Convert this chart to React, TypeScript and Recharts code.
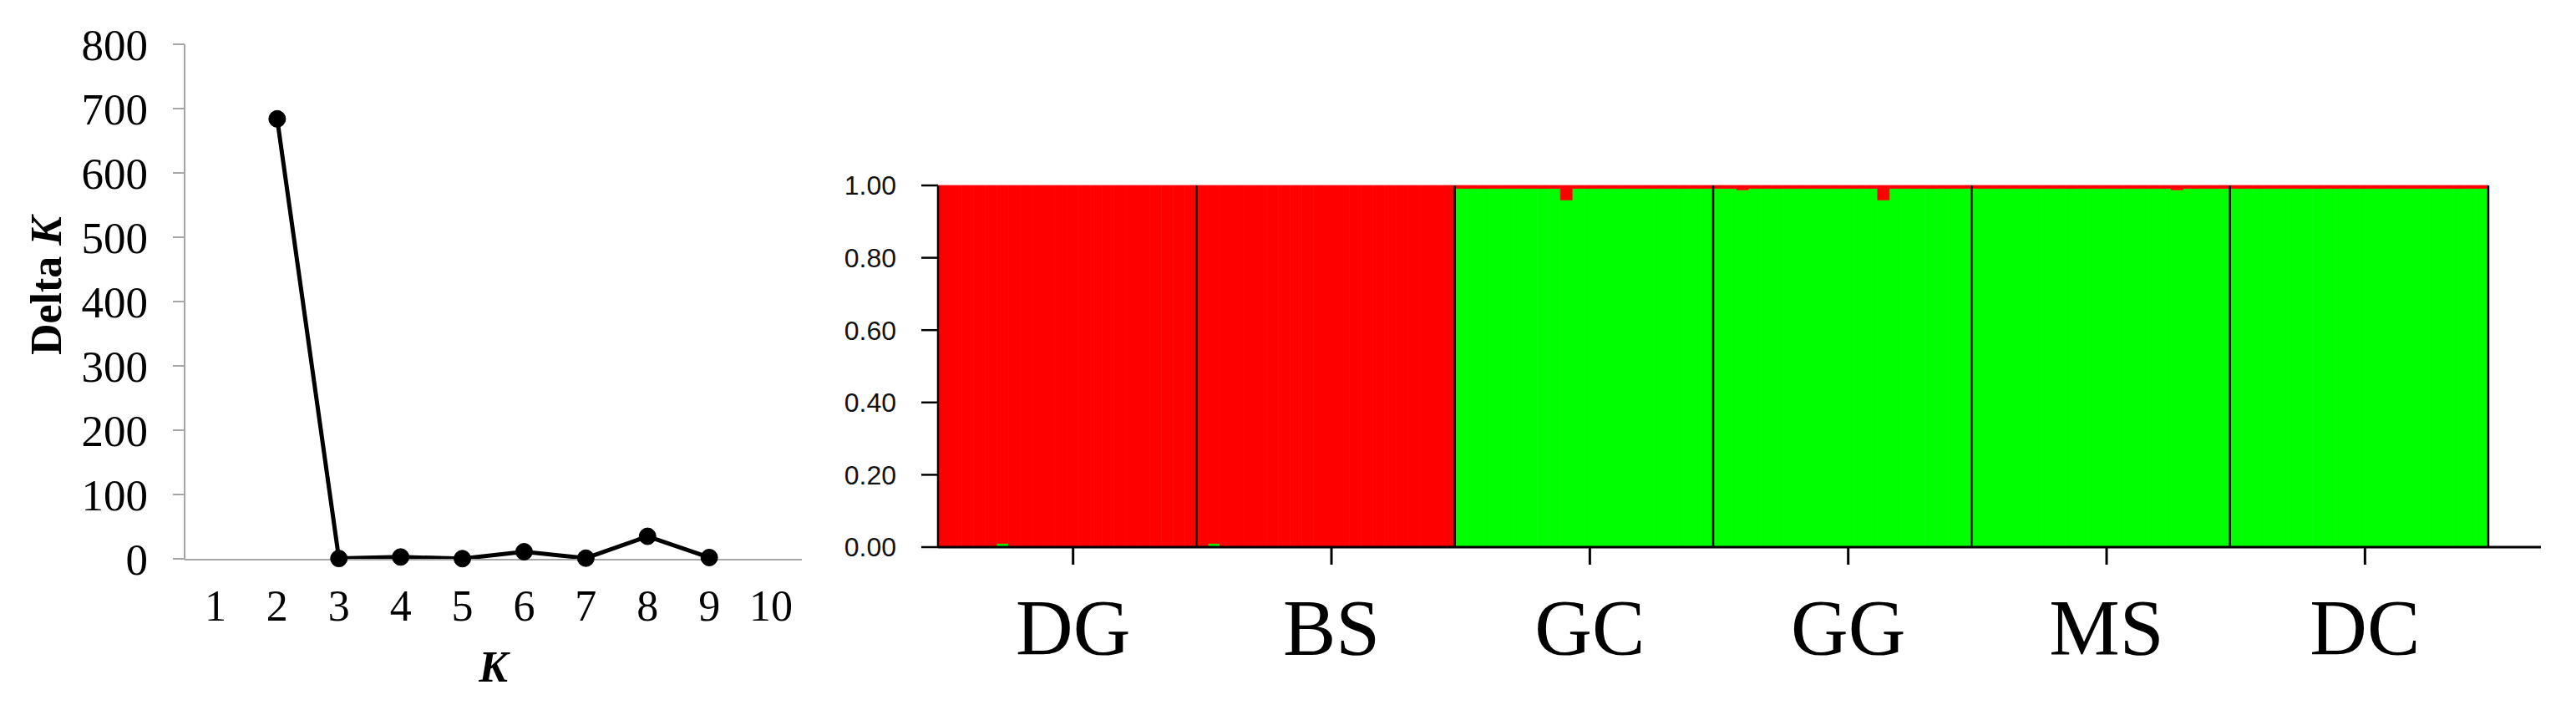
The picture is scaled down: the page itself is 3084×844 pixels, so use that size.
import {
  Bar,
  BarChart,
  Label,
  Line,
  LineChart,
  ReferenceLine,
  XAxis,
  YAxis,
} from "recharts";

// ---- Delta K (Evanno) ----
const kValues = [1, 2, 3, 4, 5, 6, 7, 8, 9, 10];
const deltaK = [null, 684, 0.5, 2.8, 0.3, 11, 1, 35, 2, null];
const deltaTicks = [0, 100, 200, 300, 400, 500, 600, 700, 800];
const kBoundaries = [0.5, 1.5, 2.5, 3.5, 4.5, 5.5, 6.5, 7.5, 8.5, 9.5, 10.5];

// ---- STRUCTURE bar plot, K = 2 ----
const popNames = ["DG", "BS", "GC", "GG", "MS", "DC"];
const qTicks = [0, 0.2, 0.4, 0.6, 0.8, 1];
// membership in the green cluster, one value per individual
const dgGreen = [0, 0, 0, 0, 0, 0.01, 0, 0, 0, 0, 0, 0, 0, 0, 0, 0, 0, 0, 0, 0, 0, 0];
const bsGreen = [0, 0.01, 0, 0, 0, 0, 0, 0, 0, 0, 0, 0, 0, 0, 0, 0, 0, 0, 0, 0, 0, 0];
const gcGreen = [0.992, 0.992, 0.992, 0.992, 0.992, 0.992, 0.992, 0.992, 0.992, 0.96, 0.992, 0.992, 0.992, 0.992, 0.992, 0.992, 0.992, 0.992, 0.992, 0.992, 0.992, 0.992];
const ggGreen = [0.992, 0.992, 0.988, 0.992, 0.992, 0.992, 0.992, 0.992, 0.992, 0.992, 0.992, 0.992, 0.992, 0.992, 0.96, 0.992, 0.992, 0.992, 0.992, 0.992, 0.992, 0.992];
const msGreen = [0.992, 0.992, 0.992, 0.992, 0.992, 0.992, 0.992, 0.992, 0.992, 0.992, 0.992, 0.992, 0.992, 0.992, 0.992, 0.992, 0.992, 0.988, 0.992, 0.992, 0.992, 0.992];
const dcGreen = [0.992, 0.992, 0.992, 0.992, 0.992, 0.992, 0.992, 0.992, 0.992, 0.992, 0.992, 0.992, 0.992, 0.992, 0.992, 0.992, 0.992, 0.992, 0.992, 0.992, 0.992, 0.992];

const popGreen = [dgGreen, bsGreen, gcGreen, ggGreen, msGreen, dcGreen];

const deltaData = kValues.map((k, i) => ({ k, dk: deltaK[i] }));

const qData = popGreen.flatMap((pop, p) =>
  pop.map((g, i) => ({
    id: `${popNames[p]}-${i + 1}`,
    green: g,
    red: 1 - g,
  }))
);

// population label sits under the middle individual, dividers at population starts
const popTicks = popGreen.map((pop, p) => `${popNames[p]}-${pop.length / 2 + 1}`);
const popStarts = popNames.slice(1).map((name) => `${name}-1`);
const lastId = qData[qData.length - 1].id;

const serif = "'Liberation Serif', 'Times New Roman', serif";
const sans = "'Liberation Sans', Arial, sans-serif";
const axisGray = "#a6a6a6";

const DeltaKTitle = ({ viewBox }: any) => {
  const cx = viewBox.x + 55;
  const cy = viewBox.y + viewBox.height / 2 - 19;
  return (
    <text
      x={cx}
      y={cy}
      transform={`rotate(-90 ${cx} ${cy})`}
      textAnchor="middle"
      dominantBaseline="central"
      fontFamily={serif}
      fontWeight="bold"
      fontSize={52}
      fill="#000"
    >
      Delta <tspan fontStyle="italic">K</tspan>
    </text>
  );
};

const KTitle = ({ viewBox }: any) => (
  <text
    x={viewBox.x + viewBox.width / 2}
    y={798}
    textAnchor="middle"
    dominantBaseline="central"
    fontFamily={serif}
    fontWeight="bold"
    fontStyle="italic"
    fontSize={52}
    fill="#000"
  >
    K
  </text>
);

function DeltaKChart() {
  return (
    <LineChart
      width={1000}
      height={844}
      data={deltaData}
      margin={{ top: 53, right: 40, bottom: 173, left: 0 }}
    >
      <XAxis
        xAxisId="grid"
        dataKey="k"
        type="number"
        domain={[0.5, 10.5]}
        ticks={kBoundaries}
        allowDataOverflow
        height={1}
        interval={0}
        tick={false}
        tickSize={15}
        stroke={axisGray}
        strokeWidth={2}
      />
      <XAxis
        dataKey="k"
        type="number"
        domain={[0.5, 10.5]}
        ticks={kValues}
        height={1}
        axisLine={false}
        tickLine={false}
        tickSize={0}
        tickMargin={37}
        interval={0}
        tick={{ fill: "#000", fontFamily: serif, fontSize: 52 }}
      >
        <Label content={<KTitle />} />
      </XAxis>
      <YAxis
        width={221}
        domain={[0, 800]}
        ticks={deltaTicks}
        interval={0}
        tickSize={14}
        tickMargin={30}
        stroke={axisGray}
        strokeWidth={2}
        tick={{ fill: "#000", fontFamily: serif, fontSize: 53 }}
      >
        <Label content={<DeltaKTitle />} />
      </YAxis>
      <Line
        dataKey="dk"
        type="linear"
        stroke="#000"
        strokeWidth={5}
        dot={{ r: 10, fill: "#000", stroke: "#000", strokeWidth: 1 }}
        isAnimationActive={false}
      />
    </LineChart>
  );
}

function StructureChart() {
  return (
    <BarChart
      width={2084}
      height={844}
      data={qData}
      barCategoryGap={0}
      barGap={0}
      margin={{ top: 222, right: 42, bottom: 188, left: 0 }}
    >
      <XAxis
        dataKey="id"
        padding={{ left: 0, right: 63 }}
        ticks={popTicks}
        interval={0}
        height={1}
        tickSize={21}
        tickMargin={41}
        stroke="#000"
        strokeWidth={3}
        tickFormatter={(id: string) => id.split("-")[0]}
        tick={{ fill: "#000", fontFamily: serif, fontSize: 95 }}
      />
      <YAxis
        width={123}
        domain={[0, 1]}
        ticks={qTicks}
        interval={0}
        tickSize={20}
        tickMargin={30}
        stroke="#000"
        strokeWidth={2.5}
        tickFormatter={(v: number) => v.toFixed(2)}
        tick={{ fill: "#111", fontFamily: sans, fontSize: 32 }}
      />
      <Bar
        dataKey="green"
        stackId="q"
        fill="#00ff00"
        stroke="#00ff00"
        strokeWidth={0.8}
        isAnimationActive={false}
      />
      <Bar
        dataKey="red"
        stackId="q"
        fill="#ff0000"
        stroke="#ff0000"
        strokeWidth={0.8}
        isAnimationActive={false}
      />
      {popStarts.map((id) => (
        <ReferenceLine
          key={id}
          x={id}
          position="start"
          stroke="#000"
          strokeWidth={2.5}
        />
      ))}
      <ReferenceLine x={lastId} position="end" stroke="#000" strokeWidth={2.5} />
    </BarChart>
  );
}

export default function App() {
  return (
    <div
      style={{
        position: "absolute",
        left: 0,
        top: 0,
        width: 3084,
        height: 844,
        background: "#fff",
      }}
    >
      <div style={{ position: "absolute", left: 0, top: 0 }}>
        <DeltaKChart />
      </div>
      <div style={{ position: "absolute", left: 1000, top: 0 }}>
        <StructureChart />
      </div>
    </div>
  );
}
